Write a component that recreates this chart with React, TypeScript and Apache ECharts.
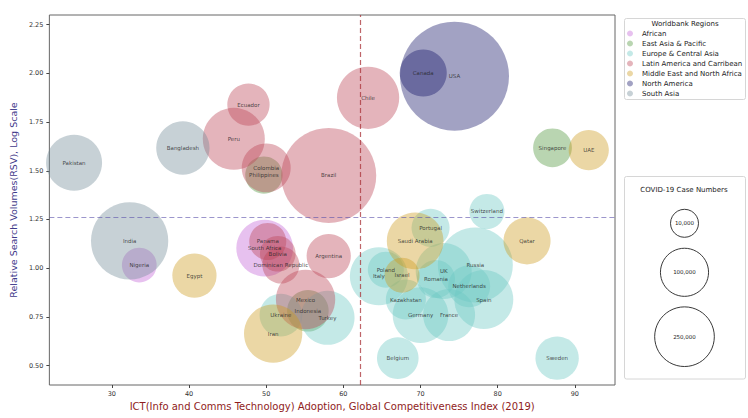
import React, { useEffect, useRef } from "react";
import * as echarts from "echarts";

// ---- data ----
const regionNames = [
  "African",
  "East Asia & Pacific",
  "Europe & Central Asia",
  "Latin America and Carribean",
  "Middle East and North Africa",
  "North America",
  "South Asia",
];
const regionColors = [
  "rgba(196,101,214,0.5)",
  "rgba(80,150,60,0.5)",
  "rgba(108,200,194,0.5)",
  "rgba(187,68,85,0.5)",
  "rgba(205,154,30,0.5)",
  "rgba(22,22,104,0.5)",
  "rgba(115,140,153,0.5)",
];

const countries = [
  "Pakistan", "Bangladesh", "India", "Nigeria", "South Africa", "Egypt",
  "Peru", "Ecuador", "Colombia", "Philippines", "Brazil", "Chile",
  "USA", "Canada", "Singapore", "UAE", "Switzerland", "Qatar",
  "Russia", "Spain", "Netherlands", "Sweden", "France", "Germany",
  "UK", "Romania", "Kazakhstan", "Italy", "Poland", "Israel",
  "Saudi Arabia", "Portugal", "Belgium", "Panama", "Bolivia", "Dominican Republic",
  "Argentina", "Mexico", "Indonesia", "Turkey", "Ukraine", "Iran",
];
const countryRegions = [
  "South Asia", "South Asia", "South Asia", "African", "African", "Middle East and North Africa",
  "Latin America and Carribean", "Latin America and Carribean", "Latin America and Carribean", "East Asia & Pacific", "Latin America and Carribean", "Latin America and Carribean",
  "North America", "North America", "East Asia & Pacific", "Middle East and North Africa", "Europe & Central Asia", "Middle East and North Africa",
  "Europe & Central Asia", "Europe & Central Asia", "Europe & Central Asia", "Europe & Central Asia", "Europe & Central Asia", "Europe & Central Asia",
  "Europe & Central Asia", "Europe & Central Asia", "Europe & Central Asia", "Europe & Central Asia", "Europe & Central Asia", "Middle East and North Africa",
  "Middle East and North Africa", "Europe & Central Asia", "Europe & Central Asia", "Latin America and Carribean", "Latin America and Carribean", "Latin America and Carribean",
  "Latin America and Carribean", "Latin America and Carribean", "East Asia & Pacific", "Europe & Central Asia", "Europe & Central Asia", "Middle East and North Africa",
];
const ictScores = [
  25.1, 39.2, 32.3, 33.55, 49.8, 40.7,
  45.8, 47.7, 50.0, 49.7, 58.1, 63.2,
  74.4, 70.35, 87.1, 91.8, 78.6, 83.8,
  77.1, 78.2, 76.3, 87.7, 73.7, 70.0,
  73.0, 72.0, 68.1, 64.6, 65.5, 67.6,
  69.3, 71.3, 67.05, 50.2, 51.5, 51.9,
  58.1, 55.1, 55.4, 57.95, 51.9, 50.9,
];
const rsvValues = [
  1.541, 1.617, 1.14, 1.016, 1.103, 0.962,
  1.664, 1.84, 1.515, 1.478, 1.476, 1.875,
  1.986, 2.002, 1.618, 1.606, 1.291, 1.14,
  1.016, 0.839, 0.907, 0.538, 0.759, 0.759,
  0.985, 0.944, 0.839, 0.958, 0.992, 0.964,
  1.14, 1.207, 0.538, 1.137, 1.074, 1.016,
  1.062, 0.839, 0.781, 0.745, 0.759, 0.664,
];
const caseNumbers = [
  191000, 155000, 753000, 25000, 201000, 70000,
  295000, 58000, 108000, 34000, 1810000, 300000,
  3250000, 91000, 40000, 46000, 26000, 91000,
  662000, 238000, 56000, 64000, 139000, 187000,
  191000, 37000, 46000, 222000, 29000, 26000,
  201000, 37000, 54000, 33000, 28000, 33000,
  70000, 244000, 54000, 164000, 60000, 227000,
];

const ictThreshold = 62.2;
const rsvThreshold = 1.265;

const xTicks = [30, 40, 50, 60, 70, 80, 90];
const yTicks = [0.5, 0.75, 1.0, 1.25, 1.5, 1.75, 2.0, 2.25];
const sizeLegendValues = [10000, 100000, 250000];
const sizeLegendLabels = ["10,000", "100,000", "250,000"];

const FONT = "DejaVu Sans";
const bubbleDiameter = (c: number) => 28 * Math.pow(c / 10000, 0.235);

export default function App() {
  const ref = useRef<HTMLDivElement>(null);

  useEffect(() => {
    document.body.style.margin = "0";
    if (!ref.current) return;
    const chart = echarts.init(ref.current, undefined, { renderer: "svg" });

    const series: any[] = regionNames.map((rg, ri) => ({
      type: "scatter",
      name: rg,
      itemStyle: { color: regionColors[ri], borderWidth: 0 },
      symbol: "circle",
      symbolSize: (v: number[]) => bubbleDiameter(v[2]),
      emphasis: { disabled: true },
      label: {
        show: true,
        position: "inside",
        formatter: (p: any) => p.name,
        fontFamily: FONT,
        fontSize: 5.5,
        color: "#222",
      },
      data: countries
        .map((c, i) => ({ name: c, value: [ictScores[i], rsvValues[i], caseNumbers[i]], region: countryRegions[i] }))
        .filter((d) => d.region === rg)
        .map((d) => ({ name: d.name, value: d.value })),
    }));

    series.push({
      type: "scatter",
      name: "refLines",
      data: [],
      z: 10,
      markLine: {
        silent: true,
        symbol: "none",
        label: { show: false },
        animation: false,
        data: [
          { xAxis: ictThreshold, lineStyle: { color: "rgba(170,50,55,0.75)", type: [5, 3], width: 1.2 } },
          { yAxis: rsvThreshold, lineStyle: { color: "rgba(90,80,170,0.6)", type: [5, 3], width: 1.2 } },
        ],
      },
    });

    const legendCx = 685;
    const sizeCenters = [223.3, 272.3, 336.7];
    const graphics: any[] = [
      {
        type: "rect",
        z: 1,
        shape: { x: 624.5, y: 18.5, width: 121, height: 81, r: 2 },
        style: { fill: "#fff", stroke: "#d6d6d6", lineWidth: 1 },
      },
      {
        type: "text",
        z: 2,
        x: legendCx,
        y: 24,
        style: { text: "Worldbank Regions", fontFamily: FONT, fontSize: 7, fill: "#222", align: "center", verticalAlign: "middle" },
      },
      {
        type: "rect",
        z: 1,
        shape: { x: 624.5, y: 176.5, width: 121, height: 202.5, r: 2 },
        style: { fill: "#fff", stroke: "#d6d6d6", lineWidth: 1 },
      },
      {
        type: "text",
        z: 2,
        x: 684,
        y: 190,
        style: { text: "COVID-19 Case Numbers", fontFamily: FONT, fontSize: 7, fill: "#222", align: "center", verticalAlign: "middle" },
      },
    ];
    sizeLegendValues.forEach((v, i) => {
      graphics.push({
        type: "circle",
        z: 2,
        shape: { cx: 684.5, cy: sizeCenters[i], r: bubbleDiameter(v) / 2 },
        style: { fill: "none", stroke: "#222", lineWidth: 0.9 },
      });
      graphics.push({
        type: "text",
        z: 3,
        x: 684.5,
        y: sizeCenters[i],
        style: { text: sizeLegendLabels[i], fontFamily: FONT, fontSize: 5.5, fill: "#222", align: "center", verticalAlign: "middle" },
      });
    });

    chart.setOption({
      animation: false,
      textStyle: { fontFamily: FONT },
      grid: {
        left: 44,
        right: 133,
        top: 15,
        bottom: 33,
        show: true,
        borderColor: "#666",
        borderWidth: 1,
        backgroundColor: "transparent",
      },
      legend: {
        data: regionNames,
        orient: "vertical",
        left: 627,
        top: 30,
        padding: 0,
        itemWidth: 14,
        itemHeight: 6,
        itemGap: 3,
        icon: "circle",
        selectedMode: false,
        z: 5,
        textStyle: { fontFamily: FONT, fontSize: 7, color: "#222" },
      },
      xAxis: {
        type: "value",
        min: 21.9,
        max: 95.2,
        splitLine: { show: false },
        axisLine: { show: false },
        axisTick: { show: true, length: 3, customValues: xTicks, lineStyle: { color: "#444" } },
        axisLabel: { customValues: xTicks, fontSize: 6.5, color: "#333", margin: 5, fontFamily: FONT },
        name: "ICT(Info and Comms Technology) Adoption, Global Competitiveness Index (2019)",
        nameLocation: "middle",
        nameGap: 16,
        nameTextStyle: { color: "#8f1c1c", fontSize: 10, fontFamily: FONT, verticalAlign: "top" },
      },
      yAxis: {
        type: "value",
        min: 0.4,
        max: 2.3,
        splitLine: { show: false },
        axisLine: { show: false },
        axisTick: { show: true, length: 3, customValues: yTicks, lineStyle: { color: "#444" } },
        axisLabel: {
          customValues: yTicks,
          fontSize: 6.5,
          color: "#333",
          margin: 6,
          fontFamily: FONT,
          formatter: (v: number) => v.toFixed(2),
        },
        name: "Relative Search Volumes(RSV), Log Scale",
        nameLocation: "middle",
        nameRotate: 90,
        nameGap: 19,
        nameTextStyle: { color: "#3f3a8a", fontSize: 9.5, fontFamily: FONT },
      },
      graphic: graphics,
      series,
    });

    return () => chart.dispose();
  }, []);

  return <div ref={ref} style={{ width: 748, height: 418 }} />;
}
